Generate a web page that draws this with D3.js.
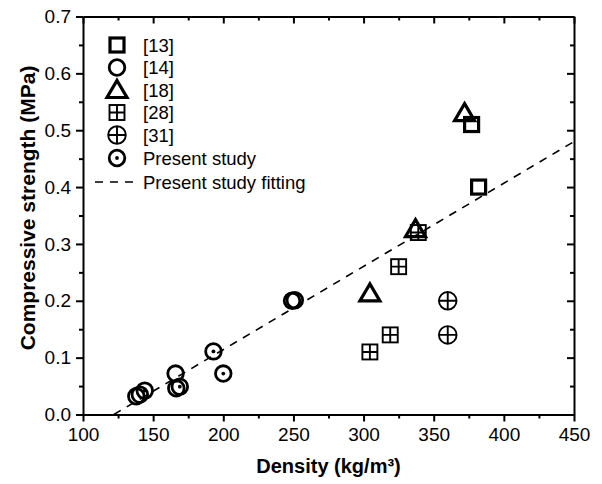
<!DOCTYPE html>
<html>
<head>
<meta charset="utf-8">
<script src="https://cdn.jsdelivr.net/npm/d3@7"></script>
<style>
body{margin:0;background:#fff;}
svg text{font-family:"Liberation Sans",Arial,sans-serif;fill:#000;}
</style>
</head>
<body>
<svg width="602" height="484"></svg>
<script>
// data
var ref13X = [377, 382];
var ref13Y = [0.51, 0.40];
var ref14X = [138, 140.5, 166.5, 166, 249, 251];
var ref14Y = [0.032, 0.035, 0.046, 0.072, 0.2, 0.201];
var ref18X = [372, 337, 304.5];
var ref18Y = [0.53, 0.326, 0.213];
var ref28X = [339, 325, 319, 304.5];
var ref28Y = [0.32, 0.26, 0.14, 0.11];
var ref31X = [360, 360];
var ref31Y = [0.2, 0.14];
var presentX = [144, 169, 193, 200];
var presentY = [0.042, 0.049, 0.111, 0.072];
var fitX = [122, 450];
var fitY = [0, 0.48];

var legendLabels = ["[13]", "[14]", "[18]", "[28]", "[31]", "Present study", "Present study fitting"];
var xTicks = [100, 150, 200, 250, 300, 350, 400, 450];
var yTicks = [0, 0.1, 0.2, 0.3, 0.4, 0.5, 0.6, 0.7];

var padL = 83, padR = 574, padT = 16.5, padB = 414.5;

var svg = d3.select("svg");

var x = d3.scaleLinear().domain([100, 450]).range([padL, padR]);
var y = d3.scaleLinear().domain([0, 0.7]).range([padB, padT]);

var xMinor = d3.range(125, 450, 50);
var yMinor = d3.range(0.05, 0.7, 0.1);

// axes
function styleAxis(g){
    g.selectAll("path").attr("stroke", "#000").attr("stroke-width", 2);
    g.selectAll("line").attr("stroke", "#000").attr("stroke-width", 2);
}

var gb = svg.append("g").attr("transform", "translate(0," + padB + ")")
    .call(d3.axisBottom(x).tickValues(xTicks).tickSize(7).tickSizeOuter(0).tickPadding(6).tickFormat(d3.format("d")));
gb.call(styleAxis);
gb.selectAll("text").attr("font-size", 19);
svg.append("g").attr("transform", "translate(0," + padB + ")")
    .call(d3.axisBottom(x).tickValues(xMinor).tickSize(4).tickSizeOuter(0).tickFormat(""))
    .call(styleAxis).select("path").remove();

var gt = svg.append("g").attr("transform", "translate(0," + padT + ")")
    .call(d3.axisTop(x).tickValues(xTicks).tickSize(-7).tickSizeOuter(0).tickFormat(""));
gt.call(styleAxis);
svg.append("g").attr("transform", "translate(0," + padT + ")")
    .call(d3.axisTop(x).tickValues(xMinor).tickSize(-4).tickSizeOuter(0).tickFormat(""))
    .call(styleAxis).select("path").remove();

var gl = svg.append("g").attr("transform", "translate(" + padL + ",0)")
    .call(d3.axisLeft(y).tickValues(yTicks).tickSize(7).tickSizeOuter(0).tickPadding(5).tickFormat(d3.format(".1f")));
gl.call(styleAxis);
gl.selectAll("text").attr("font-size", 19);
svg.append("g").attr("transform", "translate(" + padL + ",0)")
    .call(d3.axisLeft(y).tickValues(yMinor).tickSize(4).tickSizeOuter(0).tickFormat(""))
    .call(styleAxis).select("path").remove();

var gr = svg.append("g").attr("transform", "translate(" + padR + ",0)")
    .call(d3.axisRight(y).tickValues(yTicks).tickSize(-7).tickSizeOuter(0).tickFormat(""));
gr.call(styleAxis);
svg.append("g").attr("transform", "translate(" + padR + ",0)")
    .call(d3.axisRight(y).tickValues(yMinor).tickSize(-4).tickSizeOuter(0).tickFormat(""))
    .call(styleAxis).select("path").remove();

// axis titles
svg.append("text").attr("x", (padL + padR) / 2).attr("y", 473)
    .attr("text-anchor", "middle").attr("font-size", 20).attr("font-weight", "bold")
    .text("Density (kg/m³)");
svg.append("text").attr("transform", "translate(35," + 208 + ") rotate(-90)")
    .attr("text-anchor", "middle").attr("font-size", 21).attr("font-weight", "bold")
    .text("Compressive strength (MPa)");

// fitting line
var plot = svg.append("g");
plot.append("line")
    .attr("x1", x(fitX[0])).attr("y1", y(fitY[0]))
    .attr("x2", x(fitX[1])).attr("y2", y(fitY[1]))
    .attr("stroke", "#000").attr("stroke-width", 1.6).attr("stroke-dasharray", "8,7");

// marker shapes
function square(g, cx, cy){
    g.append("rect").attr("x", cx - 7).attr("y", cy - 7).attr("width", 14).attr("height", 14)
        .attr("fill", "none").attr("stroke", "#000").attr("stroke-width", 3.2);
}
function circle(g, cx, cy){
    g.append("circle").attr("cx", cx).attr("cy", cy).attr("r", 7.8)
        .attr("fill", "none").attr("stroke", "#000").attr("stroke-width", 2.8);
}
function triangle(g, cx, cy){
    g.append("path").attr("d", "M" + cx + "," + (cy - 9.5) + "L" + (cx + 10) + "," + (cy + 7.5) + "L" + (cx - 10) + "," + (cy + 7.5) + "Z")
        .attr("fill", "none").attr("stroke", "#000").attr("stroke-width", 3.2).attr("stroke-linejoin", "miter");
}
function squarePlus(g, cx, cy){
    g.append("rect").attr("x", cx - 7.5).attr("y", cy - 7.5).attr("width", 15).attr("height", 15)
        .attr("fill", "none").attr("stroke", "#000").attr("stroke-width", 1.9);
    g.append("path").attr("d", "M" + (cx - 7.5) + "," + cy + "H" + (cx + 7.5) + "M" + cx + "," + (cy - 7.5) + "V" + (cy + 7.5))
        .attr("stroke", "#000").attr("stroke-width", 1.9);
}
function circlePlus(g, cx, cy){
    g.append("circle").attr("cx", cx).attr("cy", cy).attr("r", 8.8)
        .attr("fill", "none").attr("stroke", "#000").attr("stroke-width", 1.9);
    g.append("path").attr("d", "M" + (cx - 8.8) + "," + cy + "H" + (cx + 8.8) + "M" + cx + "," + (cy - 8.8) + "V" + (cy + 8.8))
        .attr("stroke", "#000").attr("stroke-width", 1.9);
}
function dotCircle(g, cx, cy){
    circle(g, cx, cy);
    g.append("circle").attr("cx", cx).attr("cy", cy).attr("r", 1.9).attr("fill", "#000");
}

function drawSeries(xs, ys, shape){
    xs.forEach(function(d, i){ shape(plot, x(d), y(ys[i])); });
}
drawSeries(ref14X, ref14Y, circle);
drawSeries(presentX, presentY, dotCircle);
drawSeries(ref28X, ref28Y, squarePlus);
drawSeries(ref31X, ref31Y, circlePlus);
drawSeries(ref18X, ref18Y, triangle);
drawSeries(ref13X, ref13Y, square);

// legend
var shapes = [square, circle, triangle, squarePlus, circlePlus, dotCircle];
var legendY = [45, 67.5, 90, 112.5, 135, 158, 182];
var legend = svg.append("g");
legendLabels.forEach(function(t, i){
    if(i < shapes.length){
        shapes[i](legend, 117, legendY[i]);
    } else {
        legend.append("line").attr("x1", 95).attr("x2", 140).attr("y1", legendY[i]).attr("y2", legendY[i])
            .attr("stroke", "#000").attr("stroke-width", 1.6).attr("stroke-dasharray", "8,7");
    }
    legend.append("text").attr("x", 143).attr("y", legendY[i] + 6.5).attr("font-size", 18.5).text(t);
});
</script>
</body>
</html>
